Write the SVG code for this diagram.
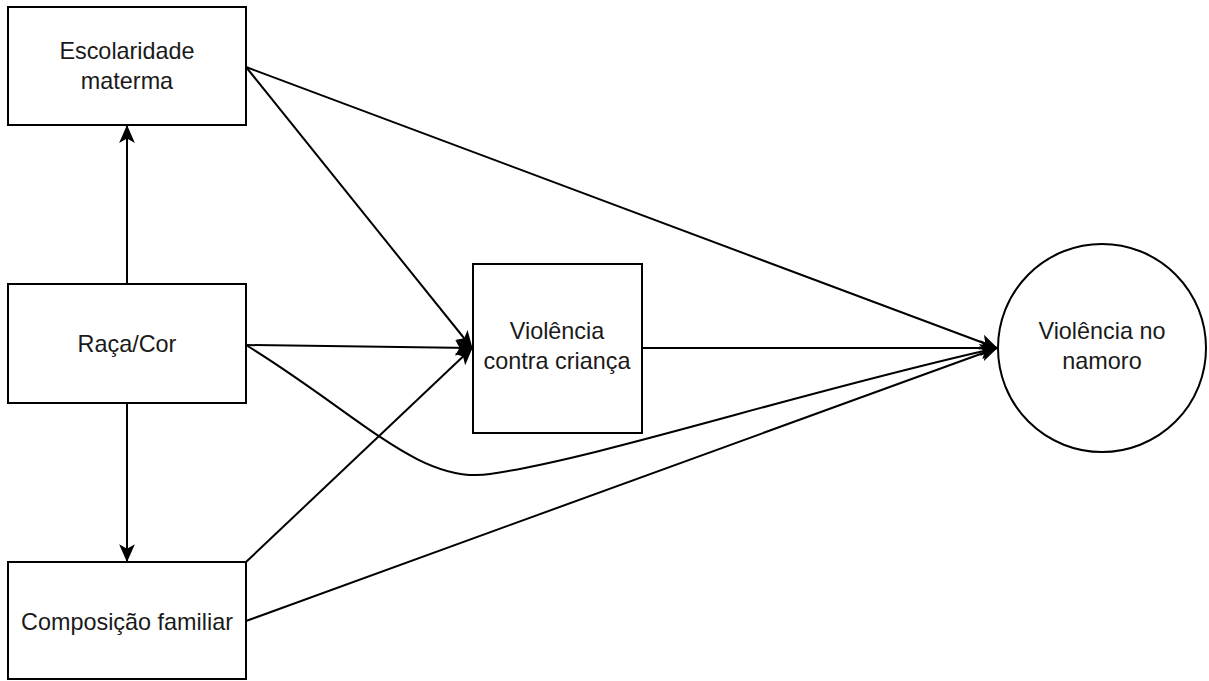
<svg xmlns="http://www.w3.org/2000/svg" width="1209" height="681" viewBox="0 0 1209 681">
<style>
.node{fill:#fff;stroke:#000;stroke-width:2}
.lbl{font-family:"Liberation Sans",Arial,sans-serif;font-size:23.4px;fill:#1a1a1a;text-anchor:middle}
.edge{fill:none;stroke:#000;stroke-width:2}
</style>
<defs>
<marker id="arr" markerUnits="userSpaceOnUse" markerWidth="18" markerHeight="16" viewBox="0 0 16 14" refX="15" refY="7" orient="auto">
<path d="M0,0 L16,7 L0,14 L4,7 Z" fill="#000"/>
</marker>
</defs>
<rect width="1209" height="681" fill="#fff"/>
<g id="connectors">
<line class="edge" x1="127" y1="284" x2="127" y2="126" marker-end="url(#arr)"/>
<line class="edge" x1="127" y1="403" x2="127" y2="561" marker-end="url(#arr)"/>
<line class="edge" x1="246" y1="67" x2="472" y2="348" marker-end="url(#arr)"/>
<line class="edge" x1="246" y1="345" x2="472" y2="348" marker-end="url(#arr)"/>
<line class="edge" x1="246" y1="562" x2="472" y2="348" marker-end="url(#arr)"/>
<line class="edge" x1="642" y1="348" x2="997" y2="348" marker-end="url(#arr)"/>
<line class="edge" x1="246" y1="67" x2="997" y2="348" marker-end="url(#arr)"/>
<line class="edge" x1="246" y1="621" x2="997" y2="348" marker-end="url(#arr)"/>
<path class="edge" d="M246,345 C360,415 420,485 490,474 C600,458 800,392 997,348" marker-end="url(#arr)"/>
</g>
<g id="escolaridade">
<rect class="node" x="8" y="7" width="238" height="118"/>
<text class="lbl" x="127" y="59">Escolaridade</text>
<text class="lbl" x="127" y="89">materma</text>
</g>
<g id="raca">
<rect class="node" x="8" y="284" width="238" height="119"/>
<text class="lbl" x="127" y="352">Raça/Cor</text>
</g>
<g id="composicao">
<rect class="node" x="8" y="562" width="238" height="117"/>
<text class="lbl" x="127" y="630">Composição familiar</text>
</g>
<g id="violencia-crianca">
<rect class="node" x="473" y="264" width="169" height="169"/>
<text class="lbl" x="557" y="339">Violência</text>
<text class="lbl" x="557" y="369">contra criança</text>
</g>
<g id="violencia-namoro">
<circle class="node" cx="1102" cy="348" r="104"/>
<text class="lbl" x="1102" y="339">Violência no</text>
<text class="lbl" x="1102" y="369">namoro</text>
</g>
</svg>
